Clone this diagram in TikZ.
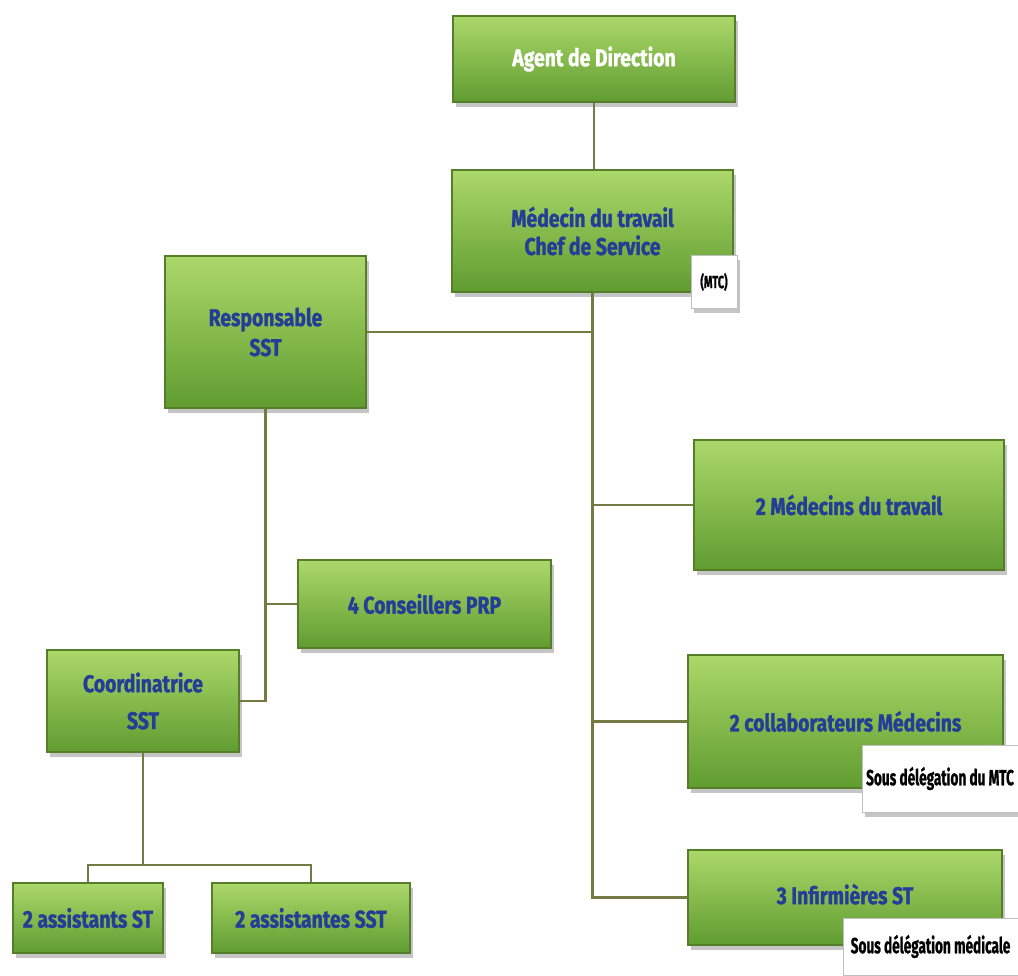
\documentclass[tikz,border=0pt]{standalone}
\usepackage{fontspec}
\setmainfont{Fira Sans}
\newfontfamily\boitefont{Fira Sans}[FakeStretch=0.8, BoldFeatures={FakeBold=1.2}]
\newfontfamily\etiqfont{Fira Sans}[FakeStretch=0.62, BoldFeatures={FakeBold=0.8}]
\usetikzlibrary{shadows}

\definecolor{vertclair}{RGB}{172,216,106}
\definecolor{vertfonce}{RGB}{96,156,48}
\definecolor{vertbord}{RGB}{86,126,42}
\definecolor{bleutexte}{RGB}{36,62,150}
\definecolor{trait}{RGB}{115,122,66}

\tikzset{boite/.style 2 args = {rectangle, minimum width=#1, minimum height=#2,
                                top color=vertclair, bottom color=vertfonce,
                                draw=vertbord, line width=0.6pt, text=bleutexte,
                                align=center, inner sep=2pt,
                                font=\boitefont\bfseries\fontsize{13.8}{17}\selectfont,
                                drop shadow={shadow xshift=0.6mm, shadow yshift=-0.9mm, opacity=0.45}},
         etiquette/.style 2 args = {rectangle, minimum width=#1, minimum height=#2,
                                    fill=white, draw=black!25, line width=0.4pt, text=black,
                                    inner sep=1pt,
                                    font=\etiqfont\bfseries\fontsize{12.5}{14}\selectfont,
                                    drop shadow={shadow xshift=0.6mm, shadow yshift=-0.9mm, opacity=0.45}},
         lien/.style = {draw=trait, line width=1.6pt}
        }

\begin{document}
\begin{tikzpicture}
  \useasboundingbox[fill=white] (0,0) rectangle (20.36,-19.5);

  \node[boite={5.64cm}{1.72cm}, text=white] (agent) at (11.88,-1.18) {Agent de Direction};
  \node[boite={5.62cm}{2.44cm}, font=\boitefont\bfseries\fontsize{13.8}{16}\selectfont] (medecin) at (11.85,-4.62) {Médecin du travail\\Chef de Service};
  \node[etiquette={0.92cm}{1.06cm}, font=\etiqfont\bfseries\fontsize{10}{12}\selectfont] (mtc) at (14.28,-5.64) {(MTC)};
  \node[boite={4.02cm}{3.04cm}, font=\boitefont\bfseries\fontsize{13.8}{17}\selectfont] (resp) at (5.31,-6.64) {Responsable\\SST};
  \node[boite={6.2cm}{2.6cm}] (deuxmed) at (16.98,-10.10) {2 Médecins du travail};
  \node[boite={5.06cm}{1.76cm}] (prp) at (8.49,-12.08) {4 Conseillers PRP};
  \node[boite={3.84cm}{2.04cm}, font=\boitefont\bfseries\fontsize{13.8}{21}\selectfont] (coord) at (2.86,-14.02) {Coordinatrice\\SST};
  \node[boite={6.3cm}{2.66cm}] (collab) at (16.91,-14.43) {2 collaborateurs Médecins};
  \node[etiquette={3.12cm}{1.34cm}] (sousmtc) at (18.80,-15.57) {Sous délégation du MTC};
  \node[boite={6.28cm}{1.9cm}] (infirm) at (16.90,-17.95) {\raisebox{1.4mm}{3 Infirmières ST}};
  \node[etiquette={3.5cm}{1.14cm}] (sousmed) at (18.61,-18.93) {Sous délégation médicale};
  \node[boite={3.0cm}{1.4cm}] (assist1) at (1.76,-18.36) {2 assistants ST};
  \node[boite={3.96cm}{1.4cm}] (assist2) at (6.22,-18.36) {2 assistantes SST};

  \coordinate (barre) at (2.86,-17.30);

  \draw[lien] (agent.south) -- (agent.south |- medecin.north);
  \draw[lien] (medecin.south) -- (medecin.south |- infirm.west) -- (infirm.west);
  \draw[lien] (medecin.south |- resp.east) -- (resp.east);
  \draw[lien] (medecin.south |- deuxmed.west) -- (deuxmed.west);
  \draw[lien] (medecin.south |- collab.west) -- (collab.west);
  \draw[lien] (resp.south) -- (resp.south |- coord.east) -- (coord.east);
  \draw[lien] (resp.south |- prp.west) -- (prp.west);
  \draw[lien] (coord.south) -- (barre);
  \draw[lien] (assist1.north) |- (barre) -| (assist2.north);
\end{tikzpicture}
\end{document}
